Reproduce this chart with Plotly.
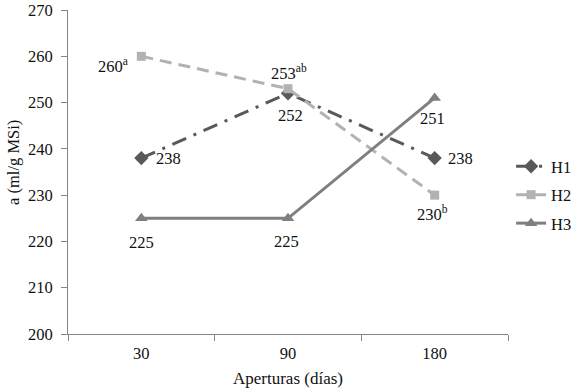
import plotly.graph_objects as go

categories = ["30", "90", "180"]
h1 = [238, 252, 238]
h2 = [260, 253, 230]
h3 = [225, 225, 251]
series_names = ["H1", "H2", "H3"]
label_texts = {
    "H1": ["238", "252", "238"],
    "H2": ["260<sup>a</sup>", "253<sup>ab</sup>", "230<sup>b</sup>"],
    "H3": ["225", "225", "251"],
}

FONT = "Liberation Serif, Times New Roman, serif"
FS = 16.5

fig = go.Figure()
fig.add_trace(go.Scatter(
    x=categories, y=h1, name="H1", mode="lines+markers", legendgroup="g1",
    line=dict(color="#595959", width=3, dash="15px,8px,3px,8px"),
    marker=dict(symbol="diamond", size=11, color="#595959"),
))
fig.add_trace(go.Scatter(
    x=categories, y=h2, name="H2", mode="lines+markers", legendgroup="g2",
    line=dict(color="#b2b2b2", width=3, dash="12px,7px"),
    marker=dict(symbol="square", size=9, color="#b2b2b2"),
))
fig.add_trace(go.Scatter(
    x=categories, y=h3, name="H3", mode="lines+markers", legendgroup="g3",
    line=dict(color="#7f7f7f", width=3),
    marker=dict(symbol="triangle-up", size=11, color="#7f7f7f"),
))

# label offsets (pixels) per series/point
offsets = {
    "H1": [(27, 0), (2, -22), (26, 0)],
    "H2": [(-28, -9), (1, 16), (-2, -18)],
    "H3": [(0, -24), (-2, -23), (-2, -21)],
}
values = {"H1": h1, "H2": h2, "H3": h3}
for s in series_names:
    for i, c in enumerate(categories):
        dx, dy = offsets[s][i]
        fig.add_annotation(
            x=i, y=values[s][i], xref="x", yref="y",
            text=label_texts[s][i], showarrow=False,
            xshift=dx, yshift=dy, font=dict(family=FONT, size=FS, color="#111111"),
        )

# y-axis title as rotated annotation
fig.add_annotation(
    x=0, y=0.528, xref="paper", yref="paper", xanchor="center", yanchor="middle",
    xshift=-54, text="a (ml/g MSi)", textangle=-90, showarrow=False,
    font=dict(family=FONT, size=FS, color="#111111"),
)

axis_col = "#868686"
fig.update_layout(
    width=578, height=390,
    margin=dict(l=68, r=70, t=10, b=56, autoexpand=False),
    paper_bgcolor="white", plot_bgcolor="white",
    font=dict(family=FONT, size=FS, color="#111111"),
    showlegend=True,
    legend=dict(x=1.007, y=0.429, xanchor="left", yanchor="middle",
                font=dict(family=FONT, size=FS, color="#111111"),
                tracegroupgap=4, itemwidth=30, bgcolor="rgba(0,0,0,0)"),
    xaxis=dict(
        type="category", range=[-0.5, 2.5], showgrid=False, showline=True,
        linecolor=axis_col, linewidth=1, ticks="outside", tickson="boundaries",
        ticklen=6, tickcolor=axis_col, automargin=False, ticklabelstandoff=4,
        title=dict(text="Aperturas (días)", font=dict(family=FONT, size=17), standoff=10),
        tickfont=dict(family=FONT, size=FS),
    ),
    yaxis=dict(
        range=[200, 270], dtick=10, showgrid=False, showline=True, zeroline=False,
        linecolor=axis_col, linewidth=1, ticks="outside", ticklen=6, tickcolor=axis_col,
        automargin=False, ticklabelstandoff=5,
        tickfont=dict(family=FONT, size=FS),
    ),
)

fig.write_html("out.html", config={"displayModeBar": False},
               post_script="document.body.style.margin='0';")
